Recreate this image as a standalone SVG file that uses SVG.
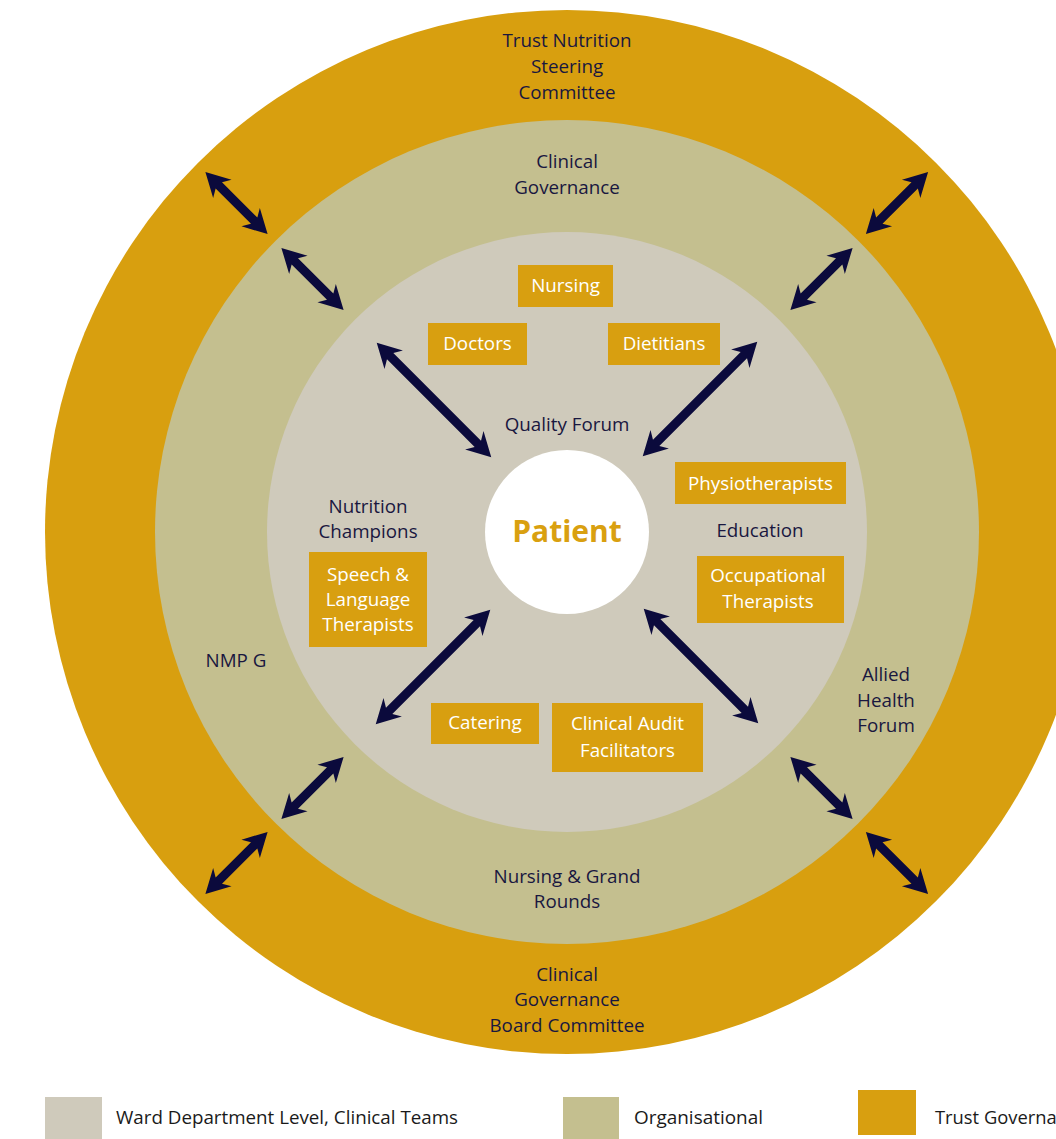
<svg xmlns="http://www.w3.org/2000/svg" xmlns:xlink="http://www.w3.org/1999/xlink" width="1056" height="1139" viewBox="0 0 1056 1139">
  <style>
    .lbl { font-family: "Open Sans", "Liberation Sans", sans-serif; font-size: 18.8px; fill: #19173f; text-anchor: middle; }
    .box { fill: #d89f10; }
    .boxt { font-family: "Open Sans", "Liberation Sans", sans-serif; font-size: 18.8px; fill: #ffffff; text-anchor: middle; }
    .leg { font-family: "Open Sans", "Liberation Sans", sans-serif; font-size: 19px; fill: #1a1a1a; }
    .arr { fill: #0b0a3c; }
  </style>
  <defs>
    <!-- double-headed arrows centred on the origin, pointing along x -->
    <path id="arrShort" d="M44,0 L20,-13 L25,-4.5 L-25,-4.5 L-20,-13 L-44,0 L-20,13 L-25,4.5 L25,4.5 L20,13 Z"/>
    <path id="arrLong" d="M81,0 L57,-13 L62,-4.5 L-62,-4.5 L-57,-13 L-81,0 L-57,13 L-62,4.5 L62,4.5 L57,13 Z"/>
  </defs>

  <rect width="1056" height="1139" fill="#ffffff"/>

  <!-- concentric levels -->
  <g id="trust-governance">
    <circle cx="567" cy="532" r="522" fill="#d89f0f"/>
    <text class="lbl"><tspan x="567" y="47">Trust Nutrition</tspan><tspan x="567" y="73">Steering</tspan><tspan x="567" y="99">Committee</tspan></text>
    <text class="lbl"><tspan x="567" y="981">Clinical</tspan><tspan x="567" y="1006">Governance</tspan><tspan x="567" y="1032">Board Committee</tspan></text>
  </g>
  <g id="organisational">
    <circle cx="567" cy="532" r="412" fill="#c4bf8f"/>
    <text class="lbl"><tspan x="567" y="168">Clinical</tspan><tspan x="567" y="194">Governance</tspan></text>
    <text class="lbl" x="236" y="667">NMP G</text>
    <text class="lbl"><tspan x="886" y="681">Allied</tspan><tspan x="886" y="707">Health</tspan><tspan x="886" y="732">Forum</tspan></text>
    <text class="lbl"><tspan x="567" y="883">Nursing &amp; Grand</tspan><tspan x="567" y="908">Rounds</tspan></text>
  </g>
  <g id="ward-level">
    <circle cx="567" cy="532" r="300" fill="#cfcabb"/>
    <text class="lbl" x="567" y="431">Quality Forum</text>
    <text class="lbl"><tspan x="368" y="513">Nutrition</tspan><tspan x="368" y="538">Champions</tspan></text>
    <text class="lbl" x="760" y="537">Education</text>
  </g>

  <!-- clinical team boxes -->
  <g id="nursing">
    <rect class="box" x="518" y="265" width="95" height="42"/>
    <text class="boxt" x="565.5" y="292">Nursing</text>
  </g>
  <g id="doctors">
    <rect class="box" x="428" y="323" width="99" height="42"/>
    <text class="boxt" x="477.5" y="350">Doctors</text>
  </g>
  <g id="dietitians">
    <rect class="box" x="608" y="323" width="112" height="42"/>
    <text class="boxt" x="664" y="350">Dietitians</text>
  </g>
  <g id="physiotherapists">
    <rect class="box" x="675" y="462" width="171" height="42"/>
    <text class="boxt" x="760.5" y="490">Physiotherapists</text>
  </g>
  <g id="occupational-therapists">
    <rect class="box" x="697" y="556" width="147" height="67"/>
    <text class="boxt"><tspan x="768" y="582">Occupational</tspan><tspan x="768" y="608">Therapists</tspan></text>
  </g>
  <g id="speech-language-therapists">
    <rect class="box" x="309" y="552" width="118" height="95"/>
    <text class="boxt"><tspan x="368" y="581">Speech &amp;</tspan><tspan x="368" y="606">Language</tspan><tspan x="368" y="631">Therapists</tspan></text>
  </g>
  <g id="catering">
    <rect class="box" x="431" y="703" width="108" height="41"/>
    <text class="boxt" x="485" y="729">Catering</text>
  </g>
  <g id="clinical-audit-facilitators">
    <rect class="box" x="552" y="703" width="151" height="69"/>
    <text class="boxt"><tspan x="627.5" y="730">Clinical Audit</tspan><tspan x="627.5" y="757">Facilitators</tspan></text>
  </g>

  <!-- centre -->
  <g id="patient">
    <circle cx="567" cy="532" r="82" fill="#ffffff"/>
    <text x="567" y="542" text-anchor="middle" font-family="'Open Sans', 'Liberation Sans', sans-serif" font-size="30" font-weight="bold" fill="#d9a010">Patient</text>
  </g>

  <!-- two-way links between levels -->
  <g id="connectors" class="arr">
    <use xlink:href="#arrShort" transform="translate(236.5,203) rotate(45)"/>
    <use xlink:href="#arrShort" transform="translate(897,203) rotate(-45)"/>
    <use xlink:href="#arrShort" transform="translate(236.5,863) rotate(-45)"/>
    <use xlink:href="#arrShort" transform="translate(897,863) rotate(45)"/>
    <use xlink:href="#arrShort" transform="translate(312.5,279) rotate(45)"/>
    <use xlink:href="#arrShort" transform="translate(821.5,279) rotate(-45)"/>
    <use xlink:href="#arrShort" transform="translate(312.5,788) rotate(-45)"/>
    <use xlink:href="#arrShort" transform="translate(821.5,788) rotate(45)"/>
    <use xlink:href="#arrLong" transform="translate(434,400) rotate(45)"/>
    <use xlink:href="#arrLong" transform="translate(700,399) rotate(-45)"/>
    <use xlink:href="#arrLong" transform="translate(433,667) rotate(-45)"/>
    <use xlink:href="#arrLong" transform="translate(701,666) rotate(45)"/>
  </g>

  <!-- legend; the last entry runs past the right edge of the page -->
  <g id="legend">
    <rect x="45" y="1097" width="57" height="42" fill="#cfcabb"/>
    <text class="leg" x="116" y="1124" textLength="342" lengthAdjust="spacingAndGlyphs">Ward Department Level, Clinical Teams</text>
    <rect x="563" y="1097" width="56" height="42" fill="#c4bf8f"/>
    <text class="leg" x="634" y="1124" textLength="129" lengthAdjust="spacingAndGlyphs">Organisational</text>
    <rect x="858" y="1090" width="58" height="45" fill="#d89f10"/>
    <text class="leg" x="935" y="1124" textLength="152" lengthAdjust="spacingAndGlyphs">Trust Governance</text>
  </g>
</svg>
